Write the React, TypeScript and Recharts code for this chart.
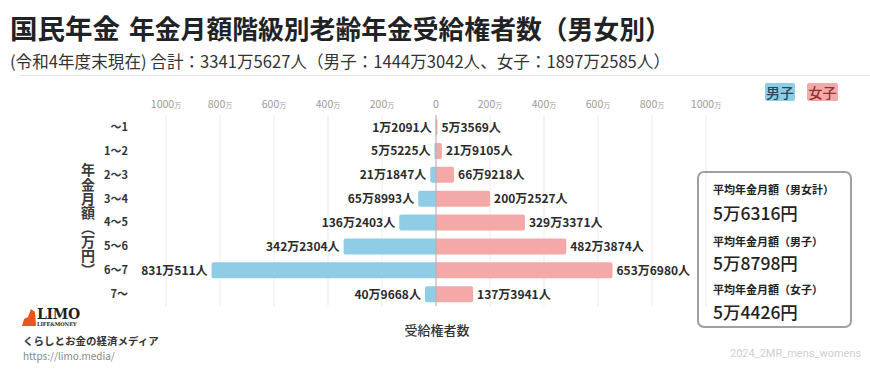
import React from 'react';
import { BarChart, Bar, XAxis, YAxis, CartesianGrid, ReferenceLine, LabelList } from 'recharts';

const categories = ['〜1', '1〜2', '2〜3', '3〜4', '4〜5', '5〜6', '6〜7', '7〜'];
const malePersons = [12091, 55225, 211847, 658993, 1362403, 3422304, 8310511, 409668];
const femalePersons = [53569, 219105, 669218, 2002527, 3293371, 4823874, 6536980, 1373941];
const xTicks = [-1000, -800, -600, -400, -200, 0, 200, 400, 600, 800, 1000];

const FONT = '"Noto Sans CJK JP", "Noto Sans", sans-serif';
const MALE = '#8fcde6';
const FEMALE = '#f4a8a8';

const fmt = (n: number) => `${Math.floor(n / 10000)}万${n % 10000}人`;

const data = categories.map((c, i) => ({
  range: c,
  male: -malePersons[i] / 10000,
  female: femalePersons[i] / 10000,
  maleLabel: fmt(malePersons[i]),
  femaleLabel: fmt(femalePersons[i]),
}));

const XTick = (props: any) => {
  const { x, y, payload } = props;
  const v = Math.abs(payload.value);
  return (
    <text x={x} y={y} dy={1} textAnchor="middle" fill="#9a9a9a" fontSize={10.5} fontFamily={FONT}>
      <tspan>{v}</tspan>
      {v !== 0 && <tspan fontSize={7}>万</tspan>}
    </text>
  );
};

const YTick = (props: any) => {
  const { x, y, payload } = props;
  return (
    <text x={x - 30} y={y} dy={4} textAnchor="end" fill="#333" fontSize={11} fontWeight={700} fontFamily={FONT}>
      {payload.value}
    </text>
  );
};

const makeLabel = (side: 'left' | 'right') => (props: any) => {
  const { x, y, width, height, value } = props;
  const left = Math.min(x, x + width);
  const right = Math.max(x, x + width);
  return (
    <text
      x={side === 'left' ? left - 4 : right + 4}
      y={y + height / 2}
      dy={4.5}
      textAnchor={side === 'left' ? 'end' : 'start'}
      fill="#2b2b2b"
      fontSize={12}
      fontWeight={700}
      fontFamily={FONT}
    >
      {value}
    </text>
  );
};

const abs = (s: React.CSSProperties): React.CSSProperties => ({ position: 'absolute', margin: 0, fontFamily: FONT, whiteSpace: 'nowrap', ...s });

export default function App() {
  return (
    <div style={{ position: 'absolute', left: 0, top: 0, width: 870, height: 377, background: '#fff', overflow: 'hidden', fontFamily: FONT }}>
      <BarChart
        width={870}
        height={377}
        data={data}
        layout="vertical"
        stackOffset="sign"
        margin={{ top: 95, right: 164, bottom: 71, left: 106 }}
        barSize={16}
        style={{ position: 'absolute', left: 0, top: 0 }}
      >
        <CartesianGrid horizontal={false} stroke="#ebebeb" />
        <XAxis
          type="number"
          orientation="top"
          domain={[-1000, 1000]}
          ticks={xTicks}
          axisLine={false}
          tickLine={false}
          height={20}
          tick={<XTick />}
          interval={0}
        />
        <YAxis
          type="category"
          dataKey="range"
          width={60}
          axisLine={false}
          tickLine={false}
          tick={<YTick />}
          interval={0}
        />
        <Bar dataKey="male" stackId="a" fill={MALE} isAnimationActive={false} radius={[0, 2, 2, 0]}>
          <LabelList dataKey="maleLabel" content={makeLabel('left')} />
        </Bar>
        <Bar dataKey="female" stackId="a" fill={FEMALE} isAnimationActive={false} radius={[0, 2, 2, 0]}>
          <LabelList dataKey="femaleLabel" content={makeLabel('right')} />
        </Bar>
        <ReferenceLine x={0} stroke="#b9b0b0" strokeWidth={1} />
      </BarChart>

      <div style={abs({ left: 10, top: 7, color: '#1f2326', fontWeight: 700, lineHeight: '40px' })}>
        <span style={{ fontSize: 27.5 }}>国民年金</span>
        <span style={{ fontSize: 25.8, marginLeft: 9 }}>年金月額階級別老齢年金受給権者数（男女別）</span>
      </div>
      <div style={abs({ left: 10, top: 50, color: '#333', fontSize: 16.6, lineHeight: '22px' })}>
        (令和4年度末現在) 合計：3341万5627人（男子：1444万3042人、女子：1897万2585人）
      </div>
      <div style={abs({ left: 20, top: 75, width: 850, height: 1, background: '#e2e2e2' })} />

      <div style={abs({ left: 765, top: 83, width: 30, height: 18, background: MALE, color: '#2c4756', fontSize: 14, fontWeight: 500, lineHeight: '18px', textAlign: 'center', borderRadius: 2 })}>男子</div>
      <div style={abs({ left: 807, top: 83, width: 31, height: 18, background: FEMALE, color: '#8a3535', fontSize: 14, fontWeight: 500, lineHeight: '18px', textAlign: 'center', borderRadius: 2 })}>女子</div>

      <div style={abs({ left: 80, top: 163, writingMode: 'vertical-rl', fontSize: 14, fontWeight: 700, color: '#3a3a3a', lineHeight: '16px', letterSpacing: 0.3 })}>年金月額（万円）</div>

      <div style={abs({ left: 0, top: 320, width: 874, textAlign: 'center', fontSize: 13, color: '#333', fontWeight: 500 })}>受給権者数</div>

      <div style={abs({ left: 697, top: 171, width: 151, height: 153, border: '2px solid #a0a0a0', borderRadius: 7 })} />
      <div style={abs({ left: 713, top: 181, fontSize: 11, fontWeight: 700, color: '#222' })}>平均年金月額（男女計）</div>
      <div style={abs({ left: 713, top: 200, fontSize: 17.5, fontWeight: 500, color: '#222' })}>5万6316円</div>
      <div style={abs({ left: 713, top: 233, fontSize: 11, fontWeight: 700, color: '#222' })}>平均年金月額（男子）</div>
      <div style={abs({ left: 713, top: 250, fontSize: 17.5, fontWeight: 500, color: '#222' })}>5万8798円</div>
      <div style={abs({ left: 713, top: 281, fontSize: 11, fontWeight: 700, color: '#222' })}>平均年金月額（女子）</div>
      <div style={abs({ left: 713, top: 299, fontSize: 17.5, fontWeight: 500, color: '#222' })}>5万4426円</div>

      <svg style={{ position: 'absolute', left: 22, top: 309 }} width={14} height={17}>
        <path d="M9 0 L13 3 L14 17 L0 17 L2 10 L6 8 Z" fill="#e8561e" />
      </svg>
      <div style={abs({ left: 37, top: 306, fontSize: 14, fontWeight: 900, color: '#222', fontFamily: '"DejaVu Serif", serif', letterSpacing: -0.3, lineHeight: '16px' })}>LIMO</div>
      <div style={abs({ left: 37, top: 321, fontSize: 5, fontWeight: 700, color: '#222', fontFamily: '"DejaVu Serif", serif', lineHeight: '6px' })}>LIFE&amp;MONEY</div>
      <div style={abs({ left: 23, top: 333, fontSize: 10.5, fontWeight: 700, color: '#333' })}>くらしとお金の経済メディア</div>
      <div style={abs({ left: 23, top: 348, fontSize: 10, color: '#888' })}>https://limo.media/</div>
      <div style={abs({ left: 730, top: 347, fontSize: 11, color: '#cfcfcf', fontFamily: 'Roboto, sans-serif' })}>2024_2MR_mens_womens</div>
    </div>
  );
}
